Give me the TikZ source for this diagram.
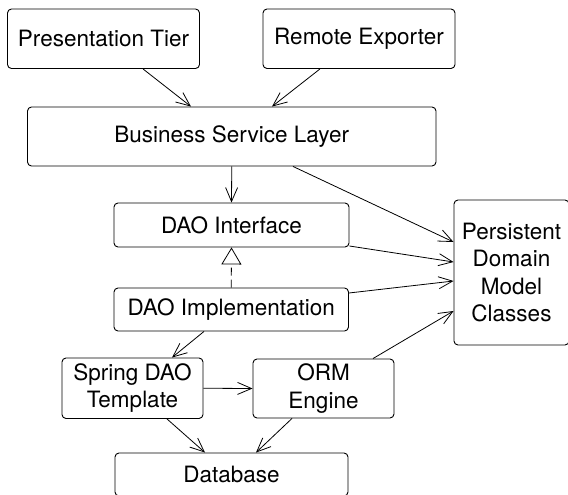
\documentclass[tikz,border=0pt]{standalone}
\usepackage{fontspec}
\setmainfont{TeX Gyre Heros}
\usetikzlibrary{arrows.meta}
\begin{document}
\begin{tikzpicture}[x=1pt,y=-1pt,
  box/.style={draw, line width=0.9pt, rounded corners=4pt, inner sep=0pt,
    align=center, font=\fontsize{22.5}{27.5}\selectfont},
  link/.style={line width=0.8pt,
    -{Straight Barb[length=14pt,width=12pt,line width=0.8pt]}},
  realize/.style={line width=0.8pt, dash pattern=on 8pt off 4pt,
    -{Triangle[open,length=17pt,width=20pt,line width=0.8pt,fill=white]}}]
\useasboundingbox (0,0) rectangle (568,495);
\clip (0,0) rectangle (568,495);

% layers
\node[box, minimum width=192pt, minimum height=59.5pt] (pt) at (103.5,38.75) {Presentation Tier};
\node[box, minimum width=192pt, minimum height=59.5pt] (re) at (359,38.75) {Remote Exporter};
\node[box, minimum width=408.5pt, minimum height=59pt] (bsl) at (231.75,136.5) {Business Service Layer};
\node[box, minimum width=235pt, minimum height=44pt] (daoi) at (231.5,225) {DAO Interface};
\node[box, minimum width=234.5pt, minimum height=43pt] (impl) at (231.25,309.5) {DAO Implementation};
\node[box, minimum width=115pt, minimum height=145pt] (pdm) at (511.5,272.5) {Persistent\\Domain\\Model\\Classes};
\node[box, minimum width=141pt, minimum height=60.5pt] (spring) at (132.5,388.25) {Spring DAO\\Template};
\node[box, minimum width=141pt, minimum height=59pt] (orm) at (323.5,388.5) {ORM\\Engine};
\node[box, minimum width=233pt, minimum height=43pt] (db) at (231.5,474.5) {Database};

% dependencies
\draw[link] ([xshift=39.5pt]pt.south) -- ([xshift=-40.75pt]bsl.north);
\draw[link] ([xshift=-39pt]re.south) -- ([xshift=40.25pt]bsl.north);
\draw[link] (bsl.south) -- (daoi.north);
\draw[link] ([xshift=61.25pt]bsl.south) -- ([yshift=30.5pt]pdm.west);
\draw[link] ([yshift=-21pt]daoi.east) -- ([yshift=10.5pt]pdm.west);
\draw[link] ([yshift=16.5pt]impl.east) -- ([yshift=-8.5pt]pdm.west);
\draw[link] ([xshift=49.5pt]orm.north) -- ([yshift=-38.5pt]pdm.west);
\draw[realize] (impl.north) -- (daoi.south);
\draw[link] ([xshift=-27.25pt]impl.south) -- ([xshift=39.5pt]spring.north);
\draw[link] (spring.east) -- (orm.west);
\draw[link] ([xshift=34.5pt]spring.south) -- ([xshift=-26.5pt]db.north);
\draw[link] ([xshift=-31.5pt]orm.south) -- ([xshift=24.5pt]db.north);
\end{tikzpicture}
\end{document}
